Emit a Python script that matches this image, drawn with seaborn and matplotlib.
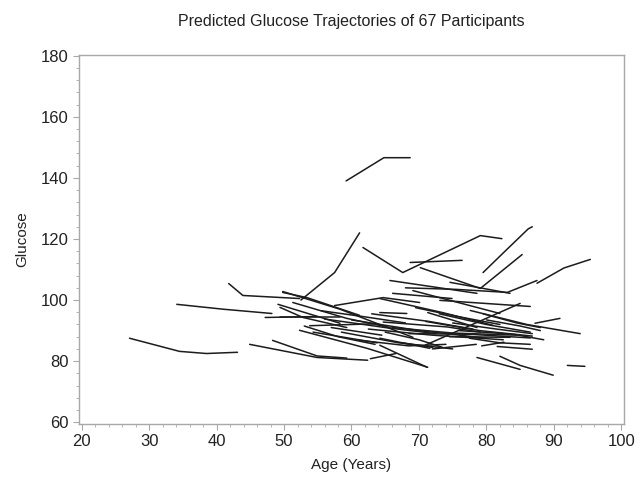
import pandas as pd
import seaborn as sns
import matplotlib.pyplot as plt
from matplotlib.ticker import MultipleLocator

# Predicted trajectories, one list per participant
ages = [
    [59.2, 64.8, 68.7], [27.1, 34.5, 38.5, 43.1], [34.1, 41.0, 48.2],
    [41.8, 43.9, 52.3], [52.5, 57.5, 61.2], [61.7, 67.6, 79.1, 82.3],
    [68.7, 76.4], [79.5, 83.0, 86.2, 86.8], [70.2, 79.1, 85.3],
    [68.0, 75.5, 83.1, 87.5], [87.5, 91.5, 95.4], [65.7, 78.6],
    [74.6, 83.5], [66.1, 74.9], [69.1, 82.0], [64.2, 73.5, 81.0],
    [64.2, 68.2], [71.3, 78.6], [64.7, 74.2, 79.1], [64.2, 71.6],
    [64.2, 71.2], [78.6, 85.0], [79.3, 82.6], [77.6, 86.0, 93.9],
    [87.2, 90.9], [73.1, 86.5], [81.6, 86.8], [82.0, 85.0, 89.9],
    [92.0, 94.6], [49.8, 58.3, 69.1], [57.5, 64.7, 70.1],
    [49.8, 53.4, 61.2], [51.3, 59.3, 65.7], [49.4, 52.8, 59.3],
    [49.4, 58.3], [53.8, 63.1], [53.0, 58.0, 63.5], [54.3, 63.8],
    [44.9, 54.9, 62.4], [48.3, 54.9, 59.3], [47.2, 54.9], [49.1, 58.3],
    [52.3, 62.3, 71.3], [62.8, 66.6], [70.9, 77.6, 85.0],
    [60.0, 70.0, 80.0], [62.5, 72.0, 82.5], [66.0, 75.0, 84.5],
    [68.5, 77.5, 86.5], [71.0, 79.0, 86.8], [56.0, 65.0, 72.5],
    [58.5, 67.0, 75.0], [60.5, 68.5, 74.0], [73.0, 80.0, 86.5],
    [75.0, 81.5, 86.8], [63.0, 71.5, 78.0], [67.5, 72.0], [74.5, 83.5],
    [76.0, 84.0, 88.5], [65.0, 70.0, 73.5], [77.5, 82.0, 86.5],
    [55.5, 62.0, 68.0], [69.5, 76.0, 82.0], [80.0, 85.0, 88.0],
    [72.0, 78.5], [57.0, 64.5], [79.5, 84.5, 88.0],
]
glucose = [
    [139.0, 146.6, 146.6], [87.5, 83.2, 82.5, 82.9], [98.6, 97.0, 95.6],
    [105.4, 101.5, 100.5], [100.0, 109.0, 122.0], [117.2, 109.0, 121.1, 120.1],
    [112.3, 113.0], [109.0, 116.5, 123.3, 124.0], [110.6, 103.8, 114.9],
    [104.0, 103.5, 102.5, 106.4], [105.5, 110.5, 113.3], [106.4, 102.2],
    [105.8, 102.2], [102.2, 100.5], [103.1, 95.6], [100.5, 95.9, 91.7],
    [95.9, 95.6], [95.9, 91.0], [92.8, 91.2, 89.5], [87.5, 84.2],
    [85.2, 78.0], [81.2, 77.3], [85.0, 86.2], [96.6, 92.0, 89.0],
    [92.4, 94.0], [99.9, 97.9], [84.8, 83.9], [81.6, 78.6, 75.4],
    [78.6, 78.3], [102.8, 97.0, 87.8], [98.2, 100.8, 99.2],
    [102.5, 100.8, 95.0], [99.2, 94.0, 91.0], [97.6, 94.3, 91.0],
    [94.3, 94.3], [91.6, 92.2], [91.5, 88.0, 85.5], [89.5, 86.0],
    [85.5, 81.2, 80.3], [86.8, 81.7, 81.0], [94.3, 94.6], [98.6, 92.4],
    [90.1, 84.2, 78.0], [80.8, 82.5], [85.2, 91.7, 98.9],
    [93.5, 90.0, 87.5], [90.5, 88.5, 87.0], [91.0, 89.2, 88.5],
    [89.0, 88.8, 87.6], [93.0, 90.0, 88.2], [93.8, 91.0, 89.0],
    [89.5, 86.0, 84.0], [87.0, 85.0, 85.5], [95.5, 92.0, 89.5],
    [92.5, 90.5, 89.0], [95.5, 93.0, 90.5], [86.0, 84.5], [88.0, 87.8],
    [90.0, 88.8, 87.0], [89.5, 87.0, 84.5], [87.5, 86.0, 85.5],
    [96.5, 94.5, 92.5], [97.5, 94.5, 92.0], [93.5, 91.5, 90.0],
    [84.0, 85.5], [91.0, 88.5], [95.5, 92.5, 91.0],
]

rows = []
for pid, (a, g) in enumerate(zip(ages, glucose), start=1):
    for x, y in zip(a, g):
        rows.append({"id": pid, "age": x, "glucose": y})
df = pd.DataFrame(rows)

sns.set_style("ticks")
plt.rcParams['font.family'] = ['Liberation Sans', 'DejaVu Sans']

fig = plt.figure(figsize=(6.42, 4.83), dpi=100)
ax = fig.add_axes([0.123, 0.122, 0.849, 0.764])

sns.lineplot(data=df, x="age", y="glucose", units="id", estimator=None,
             sort=False, color="#1c1c1c", linewidth=1.1, ax=ax)

ax.set_xlim(19.6, 100.4)
ax.set_ylim(59.4, 180.2)
ax.xaxis.set_major_locator(MultipleLocator(10))
ax.xaxis.set_minor_locator(MultipleLocator(2))
ax.yaxis.set_major_locator(MultipleLocator(20))
ax.yaxis.set_minor_locator(MultipleLocator(4))

for s in ax.spines.values():
    s.set_color("#a8a8a8")
    s.set_linewidth(1.0)
ax.tick_params(which="major", length=4, color="#a8a8a8", labelsize=12, labelcolor="#222222")
ax.tick_params(which="minor", length=2, color="#a8a8a8")

ax.set_xlabel("Age (Years)", fontsize=11, color="#222222", labelpad=6)
ax.set_ylabel("Glucose", fontsize=11, color="#222222", labelpad=8)
ax.set_title("Predicted Glucose Trajectories of 67 Participants",
             fontsize=11.5, color="#222222", pad=21)

plt.savefig("out.png", dpi=100)
